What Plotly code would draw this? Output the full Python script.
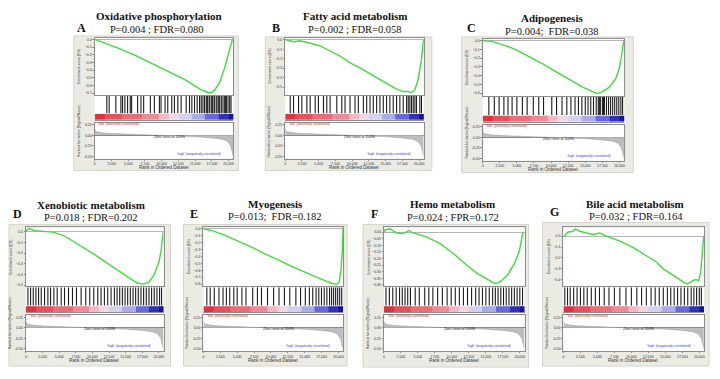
import plotly.graph_objects as go

W, H = 720, 379
OFF = 8  # page body margin of the browser, compensated in paper coordinates

# ---------------- data ----------------
titles = ["Oxidative phosphorylation", "Fatty acid metabolism", "Adipogenesis",
          "Xenobiotic metabolism", "Myogenesis", "Hemo metabolism", "Bile acid metabolism"]
letters = ["A", "B", "C", "D", "E", "F", "G"]
stats = ["P=0.004 ; FDR=0.080", "P=0.002 ; FDR=0.058", "P=0.004;  FDR=0.038",
         "P=0.018 ; FDR=0.202", "P=0.013;  FDR=0.182", "P=0.024 ; FPR=0.172",
         "P=0.032 ; FDR=0.164"]

es_rank_A = [0, 1000, 3400, 5900, 8400, 10900, 13400, 14900, 15900, 16900, 17400, 17900, 18650, 19400, 19900, 20150, 20550]
es_A = [0.0, -0.03, -0.11, -0.2, -0.31, -0.41, -0.52, -0.6, -0.655, -0.69, -0.69, -0.66, -0.56, -0.37, -0.22, -0.13, 0.0]

es_rank_B = [0, 100, 1240, 2230, 3720, 5210, 6700, 8190, 9680, 11170, 13150, 15140, 16630, 17620, 18370, 18860, 19360, 19850, 20350, 20650]
es_B = [0.0, 0.0, -0.02, -0.01, -0.036, -0.064, -0.118, -0.171, -0.243, -0.296, -0.379, -0.464, -0.521, -0.546, -0.546, -0.557, -0.529, -0.421, -0.207, 0.0]

es_rank_C = [0, 1500, 2960, 4420, 5870, 7330, 8790, 10250, 11700, 13160, 14620, 16080, 16810, 17540, 18510, 19490, 19970, 20360, 20650]
es_C = [0.0, -0.011, -0.049, -0.087, -0.144, -0.202, -0.266, -0.335, -0.403, -0.468, -0.532, -0.582, -0.605, -0.582, -0.532, -0.43, -0.316, -0.144, 0.01]

es_rank_D = [0, 150, 500, 1250, 2740, 4240, 5740, 7240, 8730, 10230, 11720, 13220, 14720, 15970, 16720, 17710, 18460, 19210, 19960, 20300, 20650]
es_D = [0.0, 0.019, 0.031, 0.009, 0.003, -0.006, -0.038, -0.094, -0.147, -0.209, -0.272, -0.334, -0.397, -0.45, -0.48, -0.49, -0.475, -0.41, -0.29, -0.19, -0.006]

es_rank_E = [0, 1480, 2960, 4430, 5910, 7390, 8870, 10350, 11830, 13300, 14780, 16260, 17740, 18970, 19710, 20110, 20400, 20600, 20700]
es_E = [0.0, -0.034, -0.083, -0.146, -0.204, -0.277, -0.35, -0.413, -0.485, -0.553, -0.617, -0.68, -0.738, -0.786, -0.801, -0.777, -0.592, -0.301, 0.0]

es_rank_F = [0, 150, 880, 1860, 2830, 3710, 4300, 6260, 8220, 10170, 12130, 13600, 15070, 16050, 16540, 17270, 18250, 19230, 19970, 20450]
es_F = [0.0, 0.017, 0.025, -0.007, -0.012, 0.012, -0.007, -0.037, -0.086, -0.16, -0.247, -0.309, -0.353, -0.383, -0.39, -0.37, -0.321, -0.235, -0.136, 0.0]

es_rank_G = [0, 150, 640, 1390, 1780, 2380, 3370, 4360, 5350, 6350, 8320, 10300, 12290, 13770, 14760, 16240, 17240, 17730, 18230, 18720, 19210, 19600, 19900, 20200, 20450, 20650]
es_G = [0.0, 0.0, 0.036, 0.045, 0.067, 0.045, 0.03, 0.015, 0.03, 0.0, -0.045, -0.106, -0.182, -0.242, -0.303, -0.364, -0.409, -0.424, -0.439, -0.424, -0.403, -0.4, -0.409, -0.333, -0.182, 0.0]

hits_A = [1800, 2150, 3150, 3900, 4150, 4500, 4900, 5300, 5500, 6400, 6900, 7300, 8300, 8900, 9650, 9900, 10500, 10900, 11500, 11900, 12400, 12900, 13650, 14150, 14500, 14900, 15300, 15650, 15900, 16150, 16400, 16650, 16800, 16900, 17150, 17400, 17550, 17650, 17900, 18150, 18400, 18550, 18650, 18900, 19150, 19400, 19550, 19650, 19900, 20150, 20350]
hits_B = [745, 1240, 1990, 2480, 3230, 3720, 4470, 4960, 5710, 6200, 6700, 7700, 8440, 8930, 9680, 10420, 10920, 11670, 12160, 12660, 13150, 13650, 14140, 14640, 15140, 15630, 16130, 16630, 17120, 17620, 18120, 18370, 18610, 18860, 19110, 19360, 19600, 20100, 20350]
hits_C = [900, 1700, 2400, 3100, 3700, 4300, 5000, 5800, 6500, 7400, 8200, 8900, 10100, 10800, 11600, 12300, 12900, 13500, 14000, 14500, 15000, 15400, 15800, 16200, 16600, 16900, 17050, 17200, 17500, 17650, 17800, 18100, 18400, 18700, 19000, 19300, 19600, 19900, 20200, 20450]
hits_D = [300, 700, 1100, 1500, 1900, 2300, 2800, 3300, 3700, 4200, 4700, 5300, 5800, 6400, 7000, 7600, 8300, 9000, 9600, 10200, 10800, 11300, 11800, 12300, 12800, 13300, 13700, 14100, 14500, 14900, 15300, 15700, 16100, 16500, 16900, 17300, 17700, 18100, 18500, 18900, 19300, 19700, 20100, 20400]
hits_E = [500, 1000, 1600, 2300, 2900, 3400, 3900, 4500, 5000, 5700, 6300, 7300, 8000, 8600, 9500, 10400, 11200, 12000, 12800, 13700, 14400, 15100, 15700, 16200, 16700, 17100, 17500, 17900, 18300, 18700, 19000, 19300, 19600, 19900, 20200, 20500]
hits_F = [300, 800, 1300, 1800, 2300, 2700, 3100, 3500, 3900, 4600, 5200, 6000, 6600, 7200, 7900, 8600, 9300, 9900, 10500, 11100, 11700, 12300, 12900, 13500, 14000, 14500, 15000, 15500, 16000, 16400, 16800, 17200, 17600, 18000, 18400, 18800, 19200, 19600, 20000, 20400]
hits_G = [200, 600, 1000, 1500, 2000, 2500, 3000, 3500, 4100, 4700, 5300, 6000, 6700, 7500, 8300, 9200, 10000, 10800, 11500, 12200, 12900, 13500, 14100, 14700, 15300, 15800, 16300, 16800, 17300, 17800, 18300, 18800, 19200, 19600, 20000, 20300]

# ranked-list metric (shared dataset)
metric_rank = [0, 100, 300, 700, 1500, 3000, 5000, 7500, 10000, 11090, 12500, 15000, 17500, 19000, 19800, 20300, 20550, 20650]
metric_val = [0.16, 0.11, 0.085, 0.07, 0.055, 0.042, 0.03, 0.017, 0.005, 0.0, -0.01, -0.03, -0.06, -0.09, -0.14, -0.25, -0.42, -0.48]

# colour bar (red = positively correlated, blue = negatively correlated)
cb_edges = [0, 1500, 4000, 7000, 9500, 11000, 12500, 14500, 16500, 18500, 20000, 20700]
cb_level = [1.0, 0.85, 0.7, 0.55, 0.3, 0.1, -0.15, -0.35, -0.6, -0.85, -1.0]

x_ticks = [0, 2500, 5000, 7500, 10000, 12500, 15000, 17500, 20000]
x_ticklabels = ["0", "2,500", "5,000", "7,500", "10,000", "12,500", "15,000", "17,500", "20,000"]
met_ticks = [0.25, 0.0, -0.25, -0.5]
met_ticklabels = ["0.25", "0.00", "-0.25", "-0.50"]

es_ranks = [es_rank_A, es_rank_B, es_rank_C, es_rank_D, es_rank_E, es_rank_F, es_rank_G]
es_vals = [es_A, es_B, es_C, es_D, es_E, es_F, es_G]
hits = [hits_A, hits_B, hits_C, hits_D, hits_E, hits_F, hits_G]

# ---------------- layout geometry (pixels, as seen in the picture) ----------------
geom = [
    dict(frame=(73, 238, 36, 171), plot=(94, 233), es=(38, 95), hit=(96, 120), met=(123, 159),
         esr=(-0.72, 0.02), dt=0.1, fmt=".1f", t=(158, 16), s=(156, 30), L=(81, 28)),
    dict(frame=(265, 432, 37, 171), plot=(285, 424), es=(38, 95), hit=(96, 120), met=(123, 159),
         esr=(-0.58, 0.02), dt=0.1, fmt=".1f", t=(355, 16), s=(355, 30), L=(276, 28)),
    dict(frame=(462, 634, 37, 173), plot=(483, 625), es=(39, 96), hit=(97, 122), met=(125, 161),
         esr=(-0.63, 0.02), dt=0.1, fmt=".1f", t=(553, 18), s=(553, 32), L=(472, 28)),
    dict(frame=(3, 170, 225, 367), plot=(25, 163), es=(228, 287), hit=(288, 313), met=(316, 352),
         esr=(-0.51, 0.04), dt=0.1, fmt=".1f", t=(90, 206), s=(90, 218), L=(17, 215)),
    dict(frame=(183, 347, 225, 367), plot=(203, 343), es=(228, 287), hit=(288, 313), met=(316, 352),
         esr=(-0.83, 0.02), dt=0.1, fmt=".1f", t=(275, 205), s=(275, 217), L=(194, 215)),
    dict(frame=(363, 529, 225, 368), plot=(384, 525), es=(228, 287), hit=(288, 313), met=(316, 352),
         esr=(-0.41, 0.035), dt=0.05, fmt=".2f", t=(453, 205), s=(453, 218), L=(375, 215)),
    dict(frame=(543, 710, 223, 367), plot=(564, 705), es=(228, 287), hit=(288, 313), met=(316, 352),
         esr=(-0.46, 0.08), dt=0.1, fmt=".1f", t=(636, 205), s=(637, 217), L=(555, 213)),
]

XMAX = 20700
GREEN = "#3fdc3a"
AXC = "#8c8c8c"
SANS = "Liberation Sans, Arial"
SMALL = dict(family=SANS, size=3.5, color="#333")
SERIF = "Liberation Serif, Times New Roman, serif"

def px(x):
    return max(0.0, (x - OFF) / W)

def py(y):
    return min(1.0, 1 - (y - OFF) / H)

def axn(k):
    return ("x" if k == 1 else f"x{k}"), ("y" if k == 1 else f"y{k}")

def lk(k, a):
    return f"{a}axis" if k == 1 else f"{a}axis{k}"

fig = go.Figure()
layout = dict(width=W, height=H, margin=dict(l=0, r=0, t=0, b=0), autosize=False,
              paper_bgcolor="white", plot_bgcolor="white", showlegend=False)
shapes, annos = [], []
colorscale = [[0.0, "#14149a"], [0.15, "#4b4bd8"], [0.35, "#b9b9ee"], [0.5, "#efe6f2"],
              [0.65, "#f4b8c6"], [0.85, "#ec6c78"], [1.0, "#df3140"]]

def note(**kw):
    d = dict(showarrow=False, xanchor="center", yanchor="middle")
    d.update(kw)
    annos.append(d)

n = 0
for i, g in enumerate(geom):
    pl, pr = g["plot"]
    fl, fr, ft, fb = g["frame"]
    shapes.append(dict(type="rect", xref="paper", yref="paper", x0=px(fl), x1=px(fr),
                       y0=py(fb), y1=py(ft), fillcolor="#ebebe4",
                       line=dict(color="#d4d4cc", width=1), layer="below"))
    shapes.append(dict(type="rect", xref="paper", yref="paper", x0=px(pl), x1=px(pr),
                       y0=py(g["met"][1]), y1=py(g["es"][0]), fillcolor="white",
                       line=dict(width=0), layer="below"))
    ids = [n + 1, n + 2, n + 3]
    n += 3

    # --- ES panel ---
    k = ids[0]
    xa, ya = axn(k)
    layout[lk(k, "x")] = dict(domain=[px(pl), px(pr)], range=[0, XMAX], anchor=ya,
                              showticklabels=False, ticks="", showgrid=False, zeroline=False,
                              showline=True, mirror=True, linecolor=AXC, linewidth=0.6)
    layout[lk(k, "y")] = dict(domain=[py(g["es"][1]), py(g["es"][0])], range=list(g["esr"]),
                              anchor=xa, dtick=g["dt"], tick0=0, tickformat=g["fmt"],
                              tickfont=SMALL, ticks="outside", ticklen=1.5, tickcolor=AXC,
                              showgrid=False, zeroline=True, zerolinecolor="#b5b5b5",
                              zerolinewidth=0.6, showline=True, mirror=True,
                              linecolor=AXC, linewidth=0.6)
    fig.add_trace(go.Scatter(x=es_ranks[i], y=es_vals[i], mode="lines",
                             line=dict(color=GREEN, width=1.4), xaxis=xa, yaxis=ya,
                             hoverinfo="skip"))

    # --- hits + colour bar ---
    k = ids[1]
    xa, ya = axn(k)
    layout[lk(k, "x")] = dict(domain=[px(pl), px(pr)], range=[0, XMAX], anchor=ya,
                              showticklabels=False, ticks="", showgrid=False, zeroline=False,
                              showline=True, mirror=True, linecolor=AXC, linewidth=0.6)
    layout[lk(k, "y")] = dict(domain=[py(g["hit"][1]), py(g["hit"][0])], range=[0, 1],
                              anchor=xa, showticklabels=False, ticks="", showgrid=False,
                              zeroline=False, showline=False)
    hx, hy = [], []
    for h in hits[i]:
        hx += [h, h, None]
        hy += [0.27, 1.0, None]
    fig.add_trace(go.Scatter(x=hx, y=hy, mode="lines", line=dict(color="#1c1c1c", width=1.1),
                             xaxis=xa, yaxis=ya, hoverinfo="skip"))
    fig.add_trace(go.Heatmap(x=cb_edges, y=[0, 0.24], z=[cb_level], colorscale=colorscale,
                             zmin=-1, zmax=1, showscale=False, xaxis=xa, yaxis=ya,
                             hoverinfo="skip"))
    note(xref=xa, yref=ya, x=250, y=0.0, text="'low' (positively correlated)",
         xanchor="left", yanchor="top", font=dict(family=SANS, size=3.5, color="#d03030"))

    # --- ranked metric ---
    k = ids[2]
    xa, ya = axn(k)
    layout[lk(k, "x")] = dict(domain=[px(pl), px(pr)], range=[0, XMAX], anchor=ya,
                              tickvals=x_ticks, ticktext=x_ticklabels, tickfont=SMALL,
                              ticks="outside", ticklen=1.5, tickcolor=AXC, showgrid=False,
                              zeroline=False, showline=True, mirror=True, linecolor=AXC,
                              linewidth=0.6)
    layout[lk(k, "y")] = dict(domain=[py(g["met"][1]), py(g["met"][0])], range=[-0.55, 0.3],
                              anchor=xa, tickvals=met_ticks, ticktext=met_ticklabels,
                              tickfont=SMALL, ticks="outside", ticklen=1.5, tickcolor=AXC,
                              showgrid=False, zeroline=True, zerolinecolor="#777",
                              zerolinewidth=0.5, showline=True, mirror=True,
                              linecolor=AXC, linewidth=0.6)
    fig.add_trace(go.Scatter(x=metric_rank, y=metric_val, mode="lines", fill="tozeroy",
                             fillcolor="#bdbdbd", line=dict(color="#9a9a9a", width=0.5),
                             xaxis=xa, yaxis=ya, hoverinfo="skip"))
    note(xref=xa, yref=ya, x=11090, y=-0.03, text="Zero cross at 11090",
         font=dict(family=SANS, size=3.5, color="#111"))
    note(xref=xa, yref=ya, x=15500, y=-0.43, text="'high' (negatively correlated)",
         font=dict(family=SANS, size=3.5, color="#3a3ac8"))

    # axis titles
    note(xref="paper", yref="paper", x=px(pl - 15), y=py((g["es"][0] + g["es"][1]) / 2),
         text="Enrichment score (ES)", textangle=-90,
         font=dict(family=SANS, size=3.5, color="#333"))
    note(xref="paper", yref="paper", x=px(pl - 16), y=py((g["hit"][0] + g["met"][1]) / 2 + 4),
         text="Ranked list metric (Signal2Noise)", textangle=-90,
         font=dict(family=SANS, size=3.5, color="#333"))
    note(xref="paper", yref="paper", x=px((pl + pr) / 2), y=py(g["met"][1] + 9),
         text="Rank in Ordered Dataset", font=dict(family=SANS, size=4.5, color="#333"))

    # titles
    note(xref="paper", yref="paper", x=px(g["t"][0]), y=py(g["t"][1]),
         text=f"<b>{titles[i]}</b>", font=dict(family=SERIF, size=11, color="#111"))
    note(xref="paper", yref="paper", x=px(g["s"][0]), y=py(g["s"][1]),
         text=stats[i], font=dict(family=SERIF, size=10.5, color="#111"))
    note(xref="paper", yref="paper", x=px(g["L"][0]), y=py(g["L"][1]),
         text=f"<b>{letters[i]}</b>", font=dict(family=SERIF, size=12, color="#111"))

layout["shapes"] = shapes
layout["annotations"] = annos
fig.update_layout(**layout)
fig.write_html("out.html")
